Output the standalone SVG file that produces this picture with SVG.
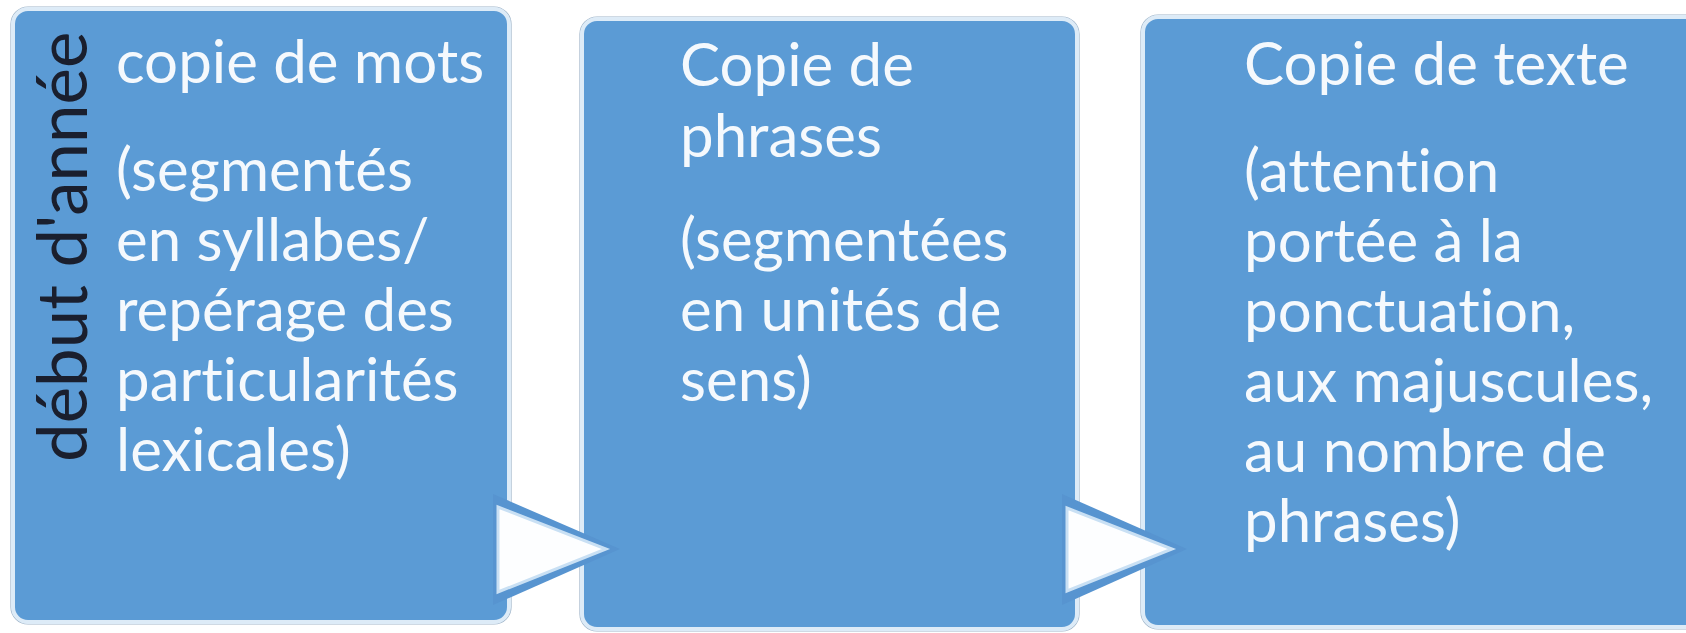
<svg xmlns="http://www.w3.org/2000/svg" width="1686" height="633" viewBox="0 0 1686 633">
  <style>
    .box { fill: #5B9BD5; stroke: #DDEBF7; stroke-width: 4; }
    .edge { fill: none; stroke: #9FB4C8; stroke-width: 1.2; }
    .t { font-family: Lato, "Open Sans", "Liberation Sans", sans-serif; font-size: 60px; fill: #F5F9FD; font-variant-ligatures: none; }
    .v { font-family: Lato, "Open Sans", "Liberation Sans", sans-serif; font-size: 69px; fill: #1A1F2E; font-variant-ligatures: none; }
    .band { fill: #5794D0; }
    .tri { fill: #FDFEFF; stroke: #C9E0F4; stroke-width: 3; stroke-linejoin: miter; }
  </style>
  <rect width="1686" height="633" fill="#FFFFFF"/>
  <g id="node1">
    <rect class="edge" x="11" y="7" width="500" height="617" rx="17"/>
    <rect class="box" x="13" y="9" width="496" height="613" rx="15"/>
    <text class="v" transform="translate(87,462) rotate(-90)">début d'année</text>
    <text class="t"><tspan x="116" y="83">copie de mots</tspan><tspan x="116" y="191">(segmentés</tspan><tspan x="116" y="261">en syllabes/</tspan><tspan x="116" y="331">repérage des</tspan><tspan x="116" y="401">particularités</tspan><tspan x="116" y="471">lexicales)</tspan></text>
  </g>
  <g id="node2">
    <rect class="edge" x="580" y="17" width="499" height="614" rx="17"/>
    <rect class="box" x="582" y="19" width="495" height="610" rx="15"/>
    <text class="t"><tspan x="680" y="86">Copie de</tspan><tspan x="680" y="157">phrases</tspan><tspan x="680" y="261">(segmentées</tspan><tspan x="680" y="331">en unités de</tspan><tspan x="680" y="401">sens)</tspan></text>
  </g>
  <g id="node3">
    <rect class="edge" x="1141" y="15" width="600" height="614" rx="17"/>
    <rect class="box" x="1143" y="17" width="596" height="610" rx="15"/>
    <text class="t"><tspan x="1244" y="85">Copie de texte</tspan><tspan x="1244" y="192">(attention</tspan><tspan x="1244" y="262">portée à la</tspan><tspan x="1244" y="332">ponctuation,</tspan><tspan x="1244" y="402">aux majuscules,</tspan><tspan x="1244" y="472">au nombre de</tspan><tspan x="1244" y="542">phrases)</tspan></text>
  </g>
  <g id="connectors">
    <g id="arrow1">
      <polygon class="band" points="493,494 493,605 620,549"/>
      <polygon class="tri" points="498,507 498,592 606,549"/>
    </g>
    <g id="arrow2">
      <polygon class="band" points="1062,494 1062,605 1187,549"/>
      <polygon class="tri" points="1067,508 1067,591 1172,549"/>
    </g>
  </g>
</svg>
